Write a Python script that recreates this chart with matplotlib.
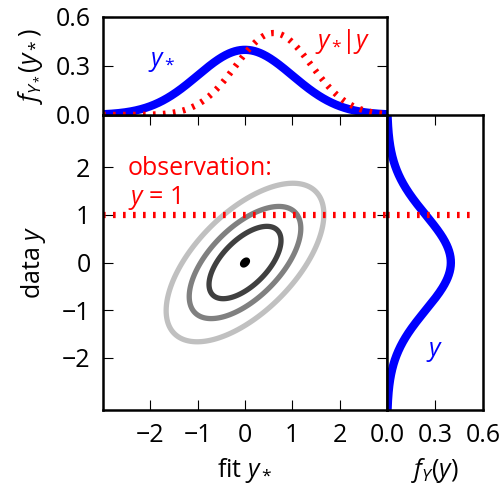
import numpy as np
import matplotlib
matplotlib.use("Agg")
import matplotlib.pyplot as plt

plt.rcParams['font.family'] = ['Open Sans', 'DejaVu Sans']
plt.rcParams['mathtext.fontset'] = 'custom'
plt.rcParams['mathtext.rm'] = 'Open Sans'
plt.rcParams['mathtext.it'] = 'Open Sans:italic'
plt.rcParams['mathtext.sf'] = 'Open Sans'
plt.rcParams['font.size'] = 18
plt.rcParams['axes.linewidth'] = 1.8
plt.rcParams['lines.scale_dashes'] = False
for ax_ in ('xtick', 'ytick'):
    plt.rcParams[ax_ + '.direction'] = 'in'
    plt.rcParams[ax_ + '.major.size'] = 7
    plt.rcParams[ax_ + '.major.width'] = 0.8
    plt.rcParams[ax_ + '.major.pad'] = 9

# model parameters (standard bivariate normal)
rho = 0.607
y_obs = 1.0
levels = [0.05, 0.10, 0.15, 0.20]
level_colors = ['#c0c0c0', '#808080', '#404040', '#000000']

x_ticks = [-2, -1, 0, 1, 2]
y_ticks = [-2, -1, 0, 1, 2]
tick_labels = ['\u22122', '\u22121', '0', '1', '2']
dens_ticks = [0.0, 0.3, 0.6]
dens_labels = ['0.0', '0.3', '0.6']

def npdf(v, mu=0.0, sd=1.0):
    return np.exp(-0.5 * ((v - mu) / sd) ** 2) / (sd * np.sqrt(2 * np.pi))

xs = np.linspace(-3.0, 3.0, 400)
ys = np.linspace(-3.1, 3.1, 400)
X, Y = np.meshgrid(np.linspace(-3, 3, 601), np.linspace(-3.1, 3.1, 621))
s = np.sqrt(1 - rho ** 2)
Z = np.exp(-(X ** 2 - 2 * rho * X * Y + Y ** 2) / (2 * s ** 2)) / (2 * np.pi * s)

fig = plt.figure(figsize=(5.03, 4.87), dpi=100)
ax = fig.add_axes([0.2048, 0.1581, 0.5646, 0.6057])
axt = fig.add_axes([0.2048, 0.7639, 0.5646, 0.2012])
axr = fig.add_axes([0.7694, 0.1581, 0.1909, 0.6057])

# joint density
ax.contour(X, Y, Z, levels=levels, colors=level_colors, linewidths=3.8)
ax.plot([-3, 3], [y_obs, y_obs], color='red', lw=4.5, dashes=(1.9, 5.3))
ax.text(-2.47, 1.85, 'observation:', color='red', fontsize=18)
ax.text(-2.47, 1.22, '$y$ = 1', color='red', fontsize=18)
ax.set_xlim(-3, 3)
ax.set_ylim(-3.1, 3.1)
ax.set_xticks(x_ticks)
ax.set_yticks(y_ticks)
ax.set_xticklabels(tick_labels)
ax.set_yticklabels(tick_labels)
ax.tick_params(top=True, right=True)
ax.set_xlabel('fit $y_*$', labelpad=6)
ax.set_ylabel('data $y$', labelpad=10)

# marginal of the fit and the conditional
axt.plot(xs, npdf(xs), color='blue', lw=6)
axt.plot(xs, npdf(xs, rho * y_obs, s), color='red', lw=4.5, dashes=(1.9, 5.3))
axt.text(-2.05, 0.33, '$y_*$', color='blue', fontsize=18, va='center')
axt.text(1.47, 0.45, '$y_*\\!|y$', color='red', fontsize=18, va='center')
axt.set_xlim(-3, 3)
axt.set_ylim(0, 0.6)
axt.set_xticks([])
axt.set_yticks(dens_ticks)
axt.set_yticklabels(dens_labels)
axt.tick_params(right=True)
axt.set_ylabel('$f_{Y_*}(y_*)$', labelpad=8)

# marginal of the data
axr.plot(npdf(ys), ys, color='blue', lw=6)
axr.plot([0, 0.55], [y_obs, y_obs], color='red', lw=4.5, dashes=(1.9, 5.3))
axr.text(0.3, -1.87, '$y$', color='blue', fontsize=18, ha='center', va='center')
axr.set_xlim(0, 0.6)
axr.set_ylim(-3.1, 3.1)
axr.set_yticks([])
axr.set_xticks(dens_ticks)
axr.set_xticklabels(dens_labels)
axr.tick_params(top=True)
axr.set_xlabel('$f_Y(y)$', labelpad=6)

fig.savefig('out.png', dpi=100)
